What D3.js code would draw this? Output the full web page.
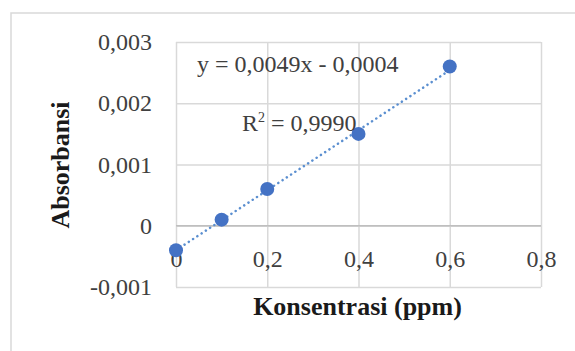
<!DOCTYPE html>
<meta charset="utf-8">
<style>
body { margin: 0; background: #fff; }
svg text { font-family: "Liberation Serif", "Times New Roman", serif; }
.tick text { fill: #404040; font-size: 24px; }
.grid line { stroke: #d9d9d9; stroke-width: 1.5; }
.grid .domain { display: none; }
.title { font-weight: bold; font-size: 26px; fill: #1a1a1a; }
.eq { font-size: 24px; fill: #404040; }
</style>
<body></body>
<script src="https://d3js.org/d3.v7.min.js"></script>
<script>
// data
var konsentrasi = [0, 0.1, 0.2, 0.4, 0.6];
var absorbansi = [-0.0004, 0.0001, 0.0006, 0.0015, 0.0026];
var xTicks = [0, 0.2, 0.4, 0.6, 0.8];
var xTickLabels = ["0", "0,2", "0,4", "0,6", "0,8"];
var yTicks = [-0.001, 0, 0.001, 0.002, 0.003];
var yTickLabels = ["-0,001", "0", "0,001", "0,002", "0,003"];
// trendline shown in the chart
var trendSlope = 0.0049, trendIntercept = -0.0004;
var trendRange = [0, 0.6];
var eqLabel = "y = 0,0049x - 0,0004";
var r2Value = "0,9990";

var W = 575, H = 351;
var plot = {left: 176, right: 541, top: 42, bottom: 287};

var svg = d3.select("body").append("svg")
    .attr("width", W)
    .attr("height", H);

// outer chart border (only top and left show in the crop)
svg.append("path")
    .attr("d", "M11," + H + "V13H" + W)
    .attr("fill", "none")
    .attr("stroke", "#d9d9d9")
    .attr("stroke-width", 1.5);

var x = d3.scaleLinear().domain([0, 0.8]).range([plot.left, plot.right]);
var y = d3.scaleLinear().domain([-0.001, 0.003]).range([plot.bottom, plot.top]);

// gridlines
svg.append("g")
    .attr("class", "grid")
    .attr("transform", "translate(0," + plot.bottom + ")")
    .call(d3.axisBottom(x).tickValues(xTicks).tickSize(-(plot.bottom - plot.top)).tickFormat(""));
svg.append("g")
    .attr("class", "grid")
    .attr("transform", "translate(" + plot.left + ",0)")
    .call(d3.axisLeft(y).tickValues(yTicks).tickSize(-(plot.right - plot.left)).tickFormat(""));

// zero line
svg.append("line")
    .attr("x1", plot.left).attr("x2", plot.right)
    .attr("y1", y(0)).attr("y2", y(0))
    .attr("stroke", "#bfbfbf")
    .attr("stroke-width", 1.5);

// y tick labels
var yAxis = svg.append("g")
    .attr("transform", "translate(" + plot.left + ",0)")
    .call(d3.axisLeft(y).tickValues(yTicks).tickSize(0).tickPadding(24)
        .tickFormat(function(d, i) { return yTickLabels[i]; }));
yAxis.select(".domain").remove();

// x tick labels sit under the zero line
var xAxis = svg.append("g")
    .attr("transform", "translate(0," + y(0) + ")")
    .call(d3.axisBottom(x).tickValues(xTicks).tickSize(0).tickPadding(24)
        .tickFormat(function(d, i) { return xTickLabels[i]; }));
xAxis.select(".domain").remove();

// trendline
svg.append("line")
    .attr("x1", x(trendRange[0]))
    .attr("y1", y(trendSlope * trendRange[0] + trendIntercept))
    .attr("x2", x(trendRange[1]))
    .attr("y2", y(trendSlope * trendRange[1] + trendIntercept))
    .attr("stroke", "#5b8fd0")
    .attr("stroke-width", 2.5)
    .attr("stroke-linecap", "round")
    .attr("stroke-dasharray", "0.1,5");

// points
svg.selectAll(".dot")
    .data(konsentrasi)
    .enter().append("circle")
    .attr("class", "dot")
    .attr("cx", function(d) { return x(d); })
    .attr("cy", function(d, i) { return y(absorbansi[i]); })
    .attr("r", 7)
    .attr("fill", "#4472c4");

// equation and R²
svg.append("text")
    .attr("class", "eq")
    .attr("x", 197).attr("y", 72)
    .text(eqLabel);
var r2 = svg.append("text")
    .attr("class", "eq")
    .attr("x", 242).attr("y", 131);
r2.append("tspan").text("R");
r2.append("tspan").attr("font-size", 14).attr("dy", -9).text("2");
r2.append("tspan").attr("dy", 9).text(" = " + r2Value);

// axis titles
svg.append("text")
    .attr("class", "title")
    .attr("x", (plot.left + plot.right) / 2 - 1)
    .attr("y", 315)
    .attr("text-anchor", "middle")
    .text("Konsentrasi (ppm)");
svg.append("text")
    .attr("class", "title")
    .attr("transform", "translate(69,165) rotate(-90)")
    .attr("text-anchor", "middle")
    .text("Absorbansi");
</script>
